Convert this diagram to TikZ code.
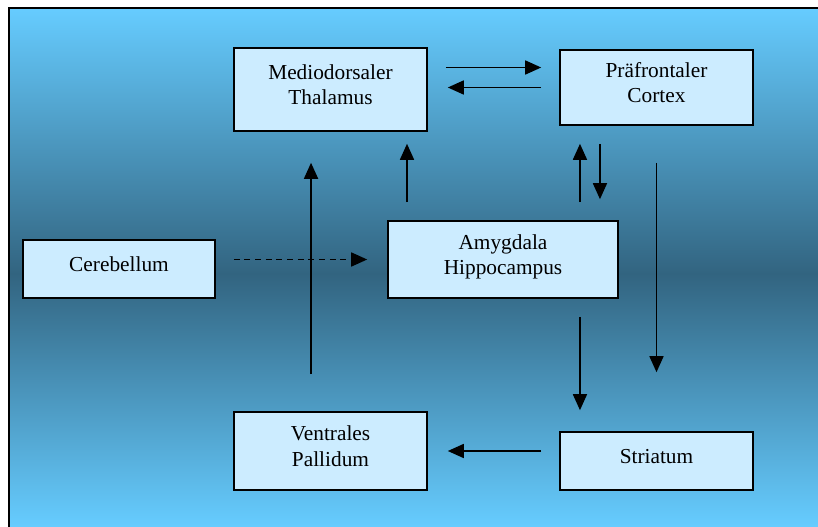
\documentclass[tikz,border=0pt]{standalone}
\usepackage{fontspec}
\setmainfont{Liberation Serif}
\usetikzlibrary{arrows.meta,positioning}

\definecolor{sky}{RGB}{102,204,255}
\definecolor{deep}{RGB}{50,100,128}
\definecolor{pale}{RGB}{204,236,255}

\begin{document}
\begin{tikzpicture}[
		x=0.75pt, y=0.75pt,
		block/.style={draw, line width=1.2pt, fill=pale, align=center, font=\fontsize{16}{19}\selectfont, text depth=0.75em},
		arr/.style={line width=1.2pt, -{Triangle[length=12pt,width=10.5pt]}}
	]
		\clip (0,0) rectangle (818,526);
		% background, light at top and bottom, dark in the middle
		\shade[top color=sky, bottom color=deep] (9,518) rectangle (840,252);
		\shade[top color=deep, bottom color=sky] (9,252.5) rectangle (840,0);
		\draw[line width=1.5pt] (9,-20) -- (9,518) -- (840,518);

		\node[block, minimum width=144.75pt, minimum height=62.25pt] (thal) at (330.5,436.5) {Mediodorsaler\\Thalamus};
		\node[block, minimum width=144.75pt, minimum height=56.25pt] (ctx) at (656.5,438.5) {Präfrontaler\\Cortex};
		\node[block, minimum width=144pt, minimum height=43.5pt] (cbl) at (119,257) {Cerebellum};
		\node[block, minimum width=172.5pt, minimum height=57.75pt] (amy) at (503,266.5) {Amygdala\\Hippocampus};
		\node[block, minimum width=144.75pt, minimum height=58.5pt] (vpl) at (330.5,75) {Ventrales\\Pallidum};
		\node[block, minimum width=144.75pt, minimum height=43.5pt] (str) at (656.5,65) {Striatum};

		\draw[arr, shorten <=13.5pt, shorten >=13.5pt] ([yshift=15pt]ctx.west -| thal.east) -- ([yshift=15pt]ctx.west);
		\draw[arr, shorten <=13.5pt, shorten >=15pt] (ctx.west) -- (ctx.west -| thal.east);
		\draw[arr, shorten <=13.5pt, shorten >=9pt] ([xshift=-72pt]amy.north) -- ([xshift=-72pt]amy.north |- thal.south);
		\draw[arr, shorten <=27.75pt, shorten >=23.25pt] ([xshift=-14.6pt]vpl.north) -- ([xshift=-14.6pt]thal.south);
		\draw[arr, dash pattern=on 4.5pt off 3.5pt, shorten <=13.5pt, shorten >=15pt] (amy.west -| cbl.east) -- (amy.west);
		\draw[arr, shorten <=13.5pt, shorten >=13.5pt] ([xshift=-57.4pt]ctx.south |- amy.north) -- ([xshift=-57.4pt]ctx.south);
		\draw[arr, shorten <=13.5pt, shorten >=15.75pt] ([xshift=-42.4pt]ctx.south) -- ([xshift=-42.4pt]ctx.south |- amy.north);
		\draw[arr, shorten <=27.75pt, shorten >=44.25pt] (ctx.south) -- (str.north);
		\draw[arr, shorten <=13.5pt, shorten >=15.75pt] ([xshift=-57.4pt]str.north |- amy.south) -- ([xshift=-57.4pt]str.north);
		\draw[arr, shorten <=13.5pt, shorten >=15pt] (vpl.east -| str.west) -- (vpl.east);
	\end{tikzpicture}
\end{document}
